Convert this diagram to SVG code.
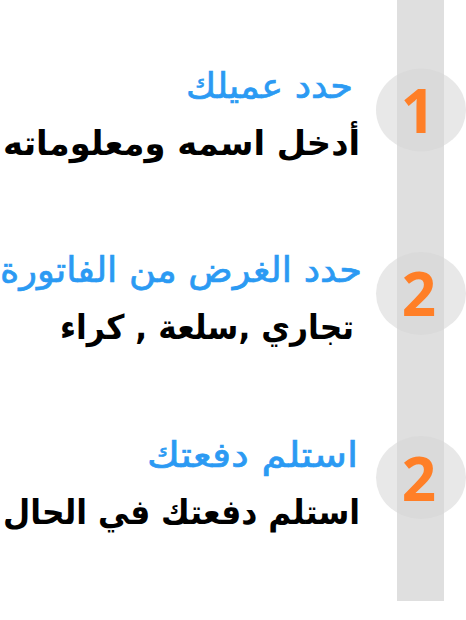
<svg xmlns="http://www.w3.org/2000/svg" width="466" height="620" viewBox="0 0 466 620">
<defs>
<style>
.bar{fill:#dfdfdf}
.disc{fill:#e8e8e8}
.ov{fill:#dadada}
.num{font-family:"Open Sans","Noto Sans","DejaVu Sans",sans-serif;font-weight:700;font-size:60px;fill:#ff7f27;text-anchor:middle}
.head{font-family:"DejaVu Sans",sans-serif;font-size:35px;fill:#2b9af3;stroke:#2b9af3;stroke-width:0.7px;text-anchor:end}
.body{font-family:"DejaVu Sans",sans-serif;font-weight:700;font-size:34px;fill:#000;text-anchor:end}
</style>
<clipPath id="barclip"><rect x="397" y="0" width="47" height="601"/></clipPath>
</defs>
<g id="timeline">
<ellipse class="disc" cx="421" cy="110" rx="45" ry="41.5"/>
<ellipse class="disc" cx="421" cy="293.5" rx="45" ry="41.5"/>
<ellipse class="disc" cx="421" cy="477.5" rx="45" ry="41.5"/>
<rect class="bar" x="397" y="0" width="47" height="601"/>
<g clip-path="url(#barclip)">
<ellipse class="ov" cx="421" cy="110" rx="45" ry="41.5"/>
<ellipse class="ov" cx="421" cy="293.5" rx="45" ry="41.5"/>
<ellipse class="ov" cx="421" cy="477.5" rx="45" ry="41.5"/>
</g>
</g>
<g id="step1">
<text class="num" x="418" y="133">1</text>
<text class="head" x="353" y="98" textLength="167" lengthAdjust="spacingAndGlyphs">حدد عميلك</text>
<text class="body" x="360" y="155" textLength="357" lengthAdjust="spacingAndGlyphs">أدخل اسمه ومعلوماته</text>
</g>
<g id="step2">
<text class="num" x="419" y="316">2</text>
<text class="head" x="362" y="282" textLength="362" lengthAdjust="spacingAndGlyphs">حدد الغرض من الفاتورة</text>
<text class="body" x="354" y="339" textLength="294" lengthAdjust="spacingAndGlyphs">تجاري ,سلعة , كراء</text>
</g>
<g id="step3">
<text class="num" x="419" y="501">2</text>
<text class="head" x="358" y="467" textLength="211" lengthAdjust="spacingAndGlyphs">استلم دفعتك</text>
<text class="body" x="360" y="524" textLength="357" lengthAdjust="spacingAndGlyphs">استلم دفعتك في الحال</text>
</g>
<g id="connectors"></g>
</svg>
